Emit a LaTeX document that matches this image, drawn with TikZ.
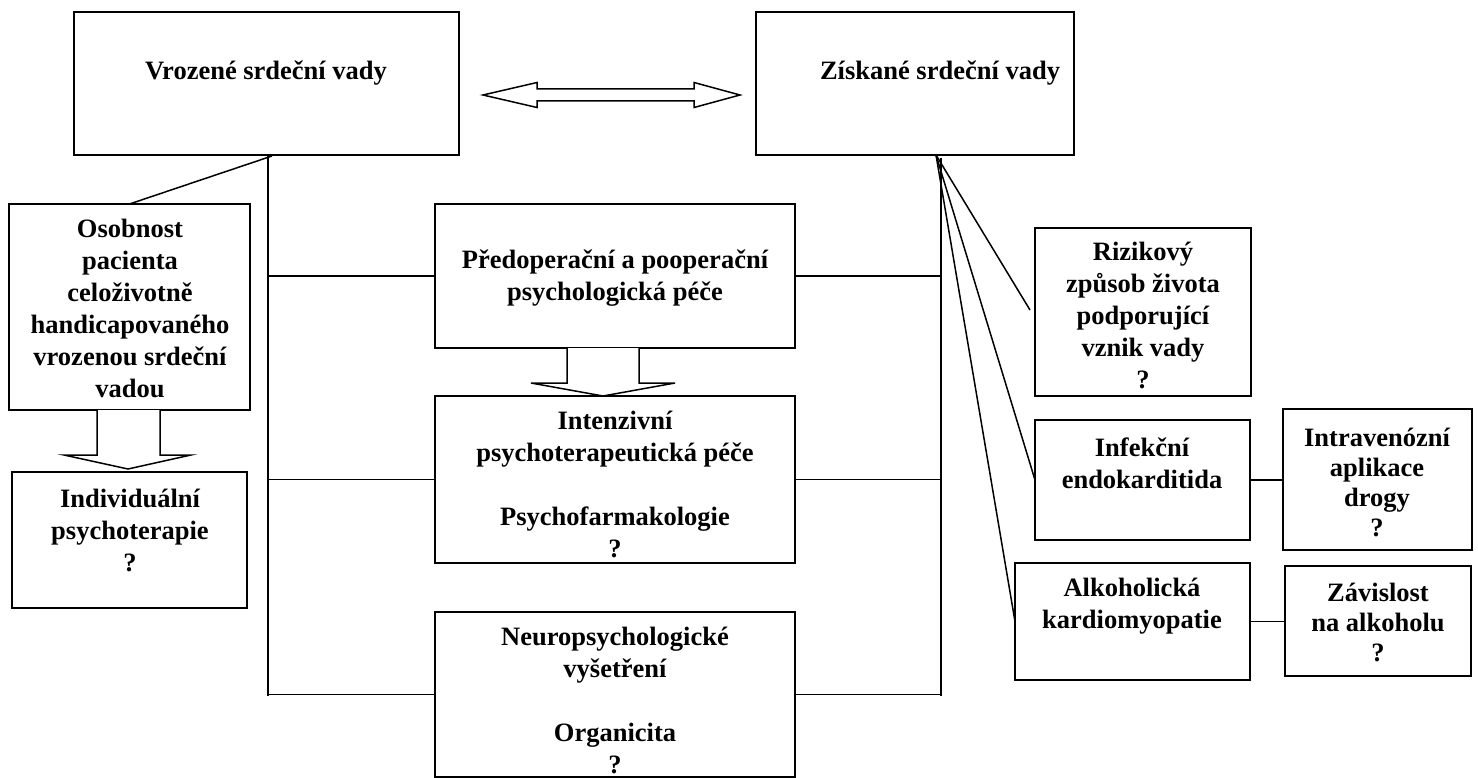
\documentclass[tikz,border=0pt]{standalone}
\usepackage{fontspec}
\setmainfont{Liberation Serif}
\begin{document}
\begin{tikzpicture}[x=1pt,y=-1pt,
  box/.style={draw,line width=1.5pt,inner sep=0pt,outer sep=0pt,anchor=north west},
  txt/.style={align=center,font=\fontsize{26.5}{32}\selectfont\bfseries,inner sep=0pt},
  txtb/.style={txt,font=\fontsize{26.5}{30}\selectfont\bfseries},
  ln/.style={line width=1.5pt},
  blk/.style={draw,line width=1.5pt,fill=white,line join=miter}]
\useasboundingbox (0,0) rectangle (1478,778);
% boxes
\node[box,minimum width=385pt,minimum height=143pt] (vroz) at (74,12) {};
\node[box,minimum width=318pt,minimum height=143pt] (zisk) at (756,12) {};
\node[box,minimum width=241pt,minimum height=206pt] (osob) at (9,204) {};
\node[box,minimum width=235pt,minimum height=136pt] (indiv) at (12,472) {};
\node[box,minimum width=360pt,minimum height=144pt] (pre) at (435,204) {};
\node[box,minimum width=360pt,minimum height=167pt] (inten) at (435,396) {};
\node[box,minimum width=360pt,minimum height=165pt] (neuro) at (435,612) {};
\node[box,minimum width=216pt,minimum height=168pt] (rizik) at (1035,228) {};
\node[box,minimum width=215pt,minimum height=120pt] (infek) at (1035,420) {};
\node[box,minimum width=189pt,minimum height=141pt] (intra) at (1283,409) {};
\node[box,minimum width=235pt,minimum height=117pt] (alk) at (1015,563) {};
\node[box,minimum width=186pt,minimum height=110pt] (zav) at (1285,566) {};
% texts
\node[txt] (vrozt) at (266,73) {Vrozené srdeční vady};
\node[txt] (ziskt) at (940,73) {Získané srdeční vady};
\node[txt] (osobt) at (130,308) {Osobnost\\pacienta\\celoživotně\\handicapovaného\\vrozenou srdeční\\vadou};
\node[txt] (indivt) at (130,530) {Individuální\\psychoterapie\\?};
\node[txt] (pret) at (615,278) {Předoperační a pooperační\\psychologická péče};
\node[txt] (intent) at (615,484) {Intenzivní\\psychoterapeutická péče\\[32pt]Psychofarmakologie\\?};
\node[txt] (neurot) at (615,700) {Neuropsychologické\\vyšetření\\[32pt]Organicita\\?};
\node[txt] (rizikt) at (1143,315) {Rizikový\\způsob života\\podporující\\vznik vady\\?};
\node[txt] (infekt) at (1142,463) {Infekční\\endokarditida};
\node[txtb] (intrat) at (1377,482) {Intravenózní\\aplikace\\drogy\\?};
\node[txt] (alkt) at (1132,606) {Alkoholická\\kardiomyopatie};
\node[txtb] (zavt) at (1378,622) {Závislost\\na alkoholu\\?};
% coordinates
\coordinate (lt) at (268,155);
\coordinate (lb) at (268,696);
\coordinate (rt) at (941,158);
\coordinate (rb) at (941,696);
\coordinate (fan) at (936,155);
\coordinate (rfree) at (1030,310);
\coordinate (oend) at (272,156);
% connectors
\draw[ln] (lt) -- (lb);
\draw[ln] (pre.west -| lt) -- (pre.west);
\draw[ln] (inten.west -| lt) -- (inten.west);
\draw[ln] (neuro.west -| lt) -- (neuro.west);
\draw[ln] (rt) -- (rb);
\draw[ln] (pre.east) -- (pre.east -| rt);
\draw[ln] (inten.east) -- (inten.east -| rt);
\draw[ln] (neuro.east) -- (neuro.east -| rt);
\draw[ln] (osob.north) -- (oend);
\draw[ln] (fan) -- (rfree);
\draw[ln] (fan) -- (infek.west);
\draw[ln] (fan) -- (alk.west);
\draw[ln] (infek.east) -- (infek.east -| intra.west);
\draw[ln] (alk.east) -- (alk.east -| zav.west);
% double arrow
\draw[blk] (483,95) -- (537,82.5) -- (537,89) -- (694,89) -- (694,82.5) -- (740,95) -- (694,107.5) -- (694,101) -- (537,101) -- (537,107.5) -- cycle;
% block arrows
\draw[blk] (97,410) -- (97,455) -- (64,455) -- (128,469) -- (191,455) -- (160,455) -- (160,410);
\draw[blk] (567,348) -- (567,383) -- (531,383) -- (603,396) -- (675,383) -- (639,383) -- (639,348);
\end{tikzpicture}
\end{document}
